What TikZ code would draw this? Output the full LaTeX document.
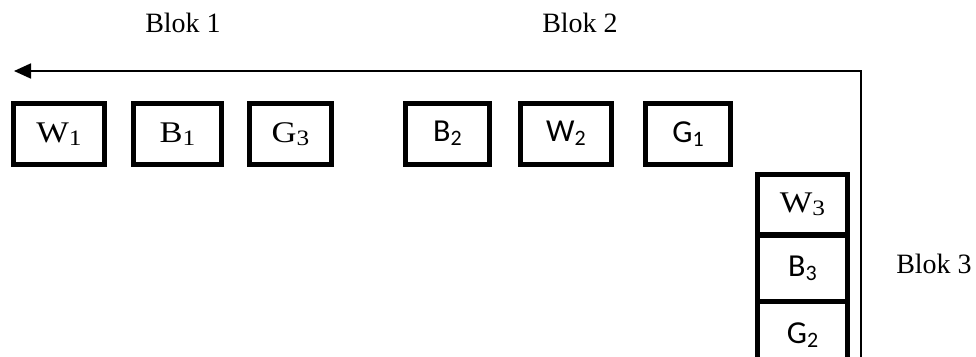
\documentclass[tikz,border=0pt]{standalone}
\usepackage{fontspec}
\usepackage{graphicx}
\usetikzlibrary{arrows.meta}
\setmainfont{Liberation Serif}
\setsansfont{Carlito}
\newcommand{\serifsub}[2]{\scalebox{1.15}[1]{\fontsize{30}{34}\selectfont #1\raisebox{-3pt}{\fontsize{22}{24}\selectfont #2}}}
\newcommand{\calsub}[2]{{\sffamily\fontsize{32}{36}\selectfont #1\raisebox{-4pt}{\fontsize{22}{24}\selectfont #2}}}

\begin{document}
\begin{tikzpicture}[x=1pt,y=-1pt,
    slot/.style={draw,line width=5pt,inner sep=0pt,minimum height=61pt},
    blok/.style={font=\fontsize{28}{34}\selectfont,anchor=base}]
	\useasboundingbox (0,0) rectangle (976,356);
	\clip (0,0) rectangle (976,356);
	\node (blok1) at (183,32) [blok] {Blok 1};
	\node (blok2) at (580,32) [blok] {Blok 2};
	\node (blok3) at (934,273) [blok] {Blok 3};
	
	\node (W1) at (59,133.7)    [slot,minimum width=91pt] {\serifsub{W}{1}};
	\node (B1) at (177.5,133.7) [slot,minimum width=88pt] {\serifsub{B}{1}};
	\node (G3) at (290.5,133.7) [slot,minimum width=82pt] {\serifsub{G}{3}};
	\node (B2) at (447.5,133.7) [slot,minimum width=84pt] {\calsub{B}{2}};
	\node (W2) at (566,133.7)   [slot,minimum width=91pt] {\calsub{W}{2}};
	\node (G1) at (688,133.7)   [slot,minimum width=85pt] {\calsub{G}{1}};
	
	\node (W3) at (802.5,204.6) [slot,minimum width=90pt] {\serifsub{W}{3}};
	\node (B3) at (802.5,268.3) [slot,minimum width=90pt,minimum height=66.7pt] {\calsub{B}{3}};
	\node (G2) at (802.5,335) [slot,minimum width=90pt,minimum height=67pt] {\calsub{G}{2}};
	
	\coordinate (foot) at (861,370);
	\coordinate (corner) at (861,71);
	\coordinate (tip) at (14,71);
	\draw[line width=1.8pt,-{Triangle[length=17pt,width=15pt]}] (foot) -- (corner) -- (tip);
\end{tikzpicture}
\end{document}
